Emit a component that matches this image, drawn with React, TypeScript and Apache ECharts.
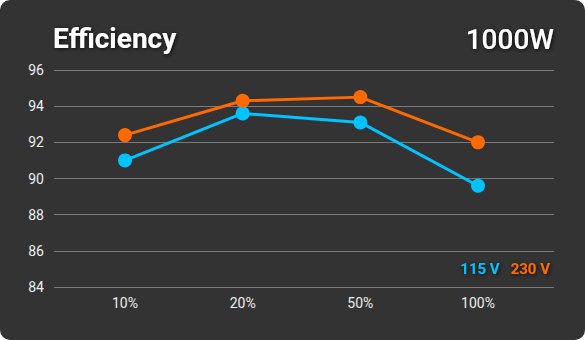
import React, { useEffect, useRef } from "react";
import * as echarts from "echarts";

const categories = ["10%", "20%", "50%", "100%"];
const series115 = [91.0, 93.6, 93.1, 89.6];
const series230 = [92.4, 94.3, 94.5, 92.0];
const seriesNames = ["115 V", "230 V"];
const yTicks = { min: 84, max: 96, interval: 2 };
const titleText = "Efficiency";
const wattText = "1000W";

const BLUE = "#00c3ff";
const ORANGE = "#ff6a00";
const FONT = "Roboto, 'Noto Sans', sans-serif";

export default function App() {
  const ref = useRef<HTMLDivElement>(null);
  useEffect(() => {
    if (!ref.current) return;
    const chart = echarts.init(ref.current, null, { renderer: "svg" });
    const shadow = { textShadowColor: "rgba(0,0,0,0.8)", textShadowBlur: 4, textShadowOffsetX: 1, textShadowOffsetY: 1 };
    chart.setOption({
      animation: false,
      backgroundColor: "transparent",
      textStyle: { fontFamily: FONT },
      title: [
        { text: titleText, left: 53, top: 24, padding: 0, textStyle: { color: "#fff", fontSize: 28, fontWeight: "bold", fontFamily: FONT, ...shadow } },
        { text: wattText, right: 31, top: 25, padding: 0, textStyle: { color: "#fff", fontSize: 28, fontWeight: 500, fontFamily: FONT, ...shadow } },
      ],
      legend: {
        right: 35,
        top: 261,
        padding: 0,
        icon: "none",
        itemWidth: 0,
        itemHeight: 0,
        itemGap: 6,
        selectedMode: false,
        data: [
          { name: seriesNames[0], textStyle: { color: BLUE } },
          { name: seriesNames[1], textStyle: { color: ORANGE } },
        ],
        textStyle: { fontSize: 15, fontWeight: "bold", fontFamily: FONT, padding: 0, ...shadow },
      },
      grid: [
        { left: 54, right: 31, top: 70, bottom: 53 },
        { left: 125, right: 107, top: 70, bottom: 53 },
      ],
      xAxis: [
        { gridIndex: 0, type: "category", data: categories, show: false },
        {
          gridIndex: 1,
          type: "category",
          data: categories,
          boundaryGap: false,
          axisLine: { show: false },
          axisTick: { show: false },
          splitLine: { show: false },
          axisLabel: { color: "#eeeeee", fontSize: 14, margin: 9, fontFamily: FONT },
        },
      ],
      yAxis: [
        {
          gridIndex: 0,
          type: "value",
          min: yTicks.min,
          max: yTicks.max,
          interval: yTicks.interval,
          axisLine: { show: false },
          axisTick: { show: false },
          splitLine: { lineStyle: { color: "#7a7a7a", width: 1 } },
          axisLabel: { color: "#eeeeee", fontSize: 14, margin: 10, fontFamily: FONT },
        },
        {
          gridIndex: 1,
          type: "value",
          min: yTicks.min,
          max: yTicks.max,
          interval: yTicks.interval,
          show: false,
          splitLine: { show: false },
        },
      ],
      series: [
        {
          name: seriesNames[0],
          type: "line",
          xAxisIndex: 1,
          yAxisIndex: 1,
          data: series115,
          symbol: "circle",
          symbolSize: 14,
          lineStyle: { color: BLUE, width: 3 },
          itemStyle: { color: BLUE },
          z: 2,
        },
        {
          name: seriesNames[1],
          type: "line",
          xAxisIndex: 1,
          yAxisIndex: 1,
          data: series230,
          symbol: "circle",
          symbolSize: 14,
          lineStyle: { color: ORANGE, width: 3 },
          itemStyle: { color: ORANGE },
          z: 3,
        },
      ],
    });
    return () => chart.dispose();
  }, []);
  return (
    <div
      style={{
        position: "fixed",
        left: 0,
        top: 0,
        width: 585,
        height: 340,
        background: "#333333",
        borderRadius: 10,
        overflow: "hidden",
      }}
    >
      <div ref={ref} style={{ width: 585, height: 340 }} />
    </div>
  );
}
